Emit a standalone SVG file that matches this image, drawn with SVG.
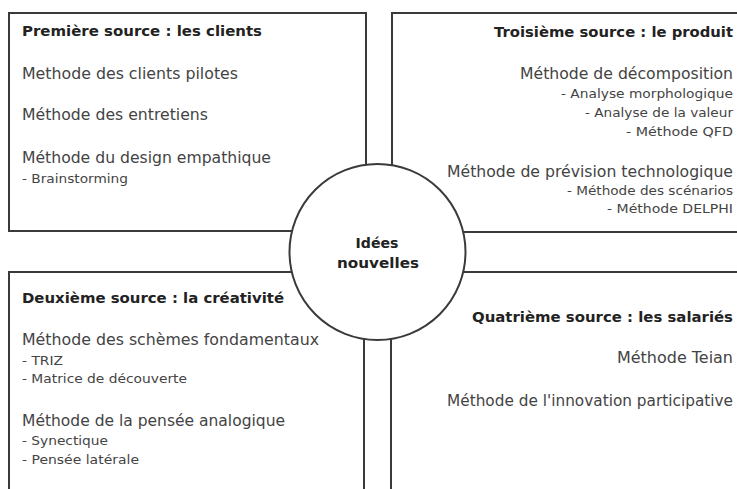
<svg xmlns="http://www.w3.org/2000/svg" width="737" height="489" viewBox="0 0 737 489">
<style>
.box{fill:#fff;stroke:#3a3a3a;stroke-width:2}
.ttl{font-family:"DejaVu Sans","Liberation Sans",sans-serif;font-weight:bold;font-size:14.5px;fill:#222}
.m{font-family:"DejaVu Sans","Liberation Sans",sans-serif;font-size:15.5px;fill:#444}
.s{font-family:"DejaVu Sans","Liberation Sans",sans-serif;font-size:11.5px;fill:#444}
.r{text-anchor:end}
.c{text-anchor:middle}
</style>
<rect width="737" height="489" fill="#fff"/>
<g id="connectors"/>
<g id="source1">
<rect class="box" x="9" y="13" width="357" height="218"/>
<text class="ttl" x="22" y="36" textLength="240" lengthAdjust="spacingAndGlyphs">Première source : les clients</text>
<text class="m" x="22" y="79" textLength="216" lengthAdjust="spacingAndGlyphs">Methode des clients pilotes</text>
<text class="m" x="22" y="120" textLength="186" lengthAdjust="spacingAndGlyphs">Méthode des entretiens</text>
<text class="m" x="22" y="163" textLength="249" lengthAdjust="spacingAndGlyphs">Méthode du design empathique</text>
<text class="s" x="22" y="183" textLength="106" lengthAdjust="spacingAndGlyphs">- Brainstorming</text>
</g>
<g id="source3">
<rect class="box" x="392" y="13" width="360" height="219"/>
<text class="ttl r" x="733" y="37" textLength="239" lengthAdjust="spacingAndGlyphs">Troisième source : le produit</text>
<text class="m r" x="733" y="79" textLength="213" lengthAdjust="spacingAndGlyphs">Méthode de décomposition</text>
<text class="s r" x="733" y="98" textLength="172" lengthAdjust="spacingAndGlyphs">- Analyse morphologique</text>
<text class="s r" x="733" y="117" textLength="148" lengthAdjust="spacingAndGlyphs">- Analyse de la valeur</text>
<text class="s r" x="733" y="136" textLength="107" lengthAdjust="spacingAndGlyphs">- Méthode QFD</text>
<text class="m r" x="733" y="177" textLength="286" lengthAdjust="spacingAndGlyphs">Méthode de prévision technologique</text>
<text class="s r" x="733" y="195" textLength="166" lengthAdjust="spacingAndGlyphs">- Méthode des scénarios</text>
<text class="s r" x="733" y="213" textLength="126" lengthAdjust="spacingAndGlyphs">- Méthode DELPHI</text>
</g>
<g id="source2">
<rect class="box" x="9" y="272" width="355" height="230"/>
<text class="ttl" x="22" y="303" textLength="262" lengthAdjust="spacingAndGlyphs">Deuxième source : la créativité</text>
<text class="m" x="22" y="345" textLength="297" lengthAdjust="spacingAndGlyphs">Méthode des schèmes fondamentaux</text>
<text class="s" x="22" y="365" textLength="41" lengthAdjust="spacingAndGlyphs">- TRIZ</text>
<text class="s" x="22" y="383" textLength="165" lengthAdjust="spacingAndGlyphs">- Matrice de découverte</text>
<text class="m" x="22" y="426" textLength="263" lengthAdjust="spacingAndGlyphs">Méthode de la pensée analogique</text>
<text class="s" x="22" y="445" textLength="86" lengthAdjust="spacingAndGlyphs">- Synectique</text>
<text class="s" x="22" y="464" textLength="117" lengthAdjust="spacingAndGlyphs">- Pensée latérale</text>
</g>
<g id="source4">
<rect class="box" x="391" y="272" width="360" height="230"/>
<text class="ttl r" x="733" y="322" textLength="261" lengthAdjust="spacingAndGlyphs">Quatrième source : les salariés</text>
<text class="m r" x="733" y="363" textLength="116" lengthAdjust="spacingAndGlyphs">Méthode Teian</text>
<text class="m r" x="733" y="406" textLength="286" lengthAdjust="spacingAndGlyphs">Méthode de l'innovation participative</text>
</g>
<g id="idees">
<circle class="box" cx="377.5" cy="252" r="88"/>
<text class="ttl c" x="377" y="248" textLength="43" lengthAdjust="spacingAndGlyphs">Idées</text>
<text class="ttl c" x="378" y="268" textLength="82" lengthAdjust="spacingAndGlyphs">nouvelles</text>
</g>
</svg>
